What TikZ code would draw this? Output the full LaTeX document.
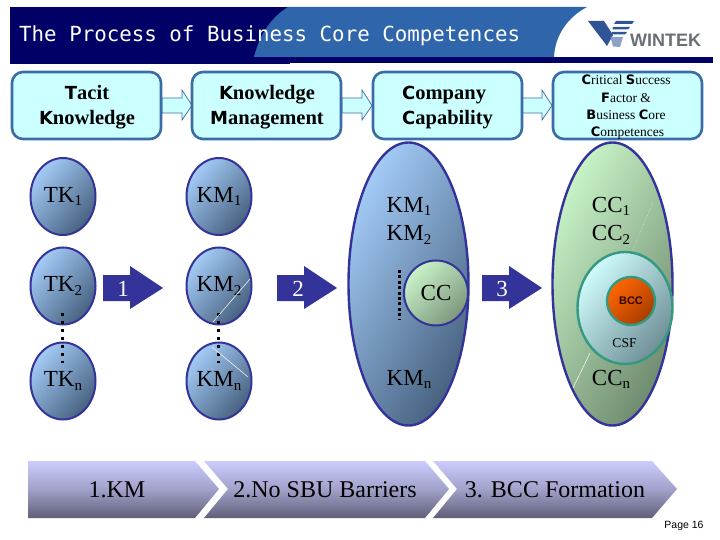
\documentclass[tikz,border=0pt]{standalone}
\usepackage{fontspec}
\setmainfont{Liberation Serif}
\setsansfont{Liberation Sans}
\newfontfamily\titlefont{DejaVu Sans Mono}
\newfontfamily\initfont{DejaVu Sans Bold}
\usetikzlibrary{shapes.geometric}
\definecolor{navy}{HTML}{000066}
\definecolor{banner}{HTML}{2F65AB}
\definecolor{boxline}{HTML}{3A6CA6}
\definecolor{boxfill}{HTML}{CCFFFF}
\definecolor{ringblue}{HTML}{333399}
\definecolor{blueA}{HTML}{A4CCF8}
\definecolor{blueB}{HTML}{47617F}
\definecolor{greenA}{HTML}{C8F4C8}
\definecolor{greenB}{HTML}{6F8A6F}
\definecolor{cyanA}{HTML}{D0FCFC}
\definecolor{cyanB}{HTML}{6E8F96}
\definecolor{tealring}{HTML}{339980}
\definecolor{orangeA}{HTML}{FF6600}
\definecolor{orangeB}{HTML}{A83C00}
\definecolor{chevA}{HTML}{CCCCFF}
\definecolor{chevB}{HTML}{5F5F78}
\definecolor{logoblue}{HTML}{2F5597}
\definecolor{logogray}{HTML}{6B6F75}
\newcommand{\sbs}[1]{\raisebox{-3.5pt}{\fontsize{15}{15}\selectfont #1}}
\newcommand{\blobtxt}[2]{\raisebox{-1.5pt}{#1\sbs{#2}}}
\newcommand{\headA}[1]{{\fontsize{18}{18}\initfont #1}}
\newcommand{\headB}[1]{{\fontsize{13}{13}\initfont #1}}
\tikzset{
  x=1pt,y=-1pt,
  headbox/.style={draw=boxline,line width=2.6pt,fill=boxfill,rounded corners=11pt,minimum width=149pt,minimum height=67pt,inner sep=0pt,align=center},
  headtext/.style={font=\fontsize{20.5}{25}\selectfont\bfseries,align=center,inner sep=0pt},
  smalltext/.style={font=\fontsize{13.5}{17.3}\selectfont,align=center,inner sep=0pt},
  flow/.style={draw=boxline,line width=.7pt,fill=boxfill},
  blob/.style={ellipse,draw=ringblue,line width=2pt,top color=blueA,bottom color=blueB,shading angle=50,minimum width=65pt,minimum height=77pt,inner sep=0pt,font=\fontsize{23}{23}\selectfont},
  bigring/.style={ellipse,draw=ringblue,line width=2.4pt,minimum width=120pt,minimum height=283pt,inner sep=0pt},
  biglabel/.style={font=\fontsize{23}{28}\selectfont,inner sep=0pt},
  blockarrow/.style={fill=ringblue,draw=none},
  numlabel/.style={font=\fontsize{23}{23}\selectfont,text=white,inner sep=0pt},
  chevshape/.style={top color=chevA,bottom color=chevB,middle color=chevA!60!chevB,draw=none},
  chevtext/.style={font=\fontsize{24}{24}\selectfont,inner sep=0pt},
  dotline/.style={line width=3pt,black,dash pattern=on 3pt off 5pt},
  glint/.style={white,line width=.5pt},
}
\begin{document}
\begin{tikzpicture}
\useasboundingbox (0,0) rectangle (720,540);
\fill[white] (0,0) rectangle (720,540);
% banner
\fill[navy] (10,7) rectangle (290,64);
\fill[navy] (250,57) rectangle (713,63.5);
\fill[banner] (254,57) .. controls (260,33) and (272,17) .. (288,7) -- (587,7)
   .. controls (568,17) and (555,35) .. (554,57) -- cycle;
\node[text=white,font=\titlefont\fontsize{20.8}{21}\selectfont,anchor=west,inner sep=0pt] (title) at (19,36) {The Process of Business Core Competences};
% logo
\fill[logoblue] (588,21) -- (604,21) -- (613,35) -- (607,46) -- cycle;
\fill[logoblue] (616,21) -- (634,21) -- (632,24) -- (614,24) -- cycle;
\fill[logoblue] (613,27) -- (630,27) -- (628,29.5) -- (612.5,29.5) -- cycle;
\fill[logoblue] (612,32) -- (627,32) -- (625,34.5) -- (611,34.5) -- cycle;
\fill[logoblue!55!white] (610.5,37) -- (623,37) -- (620,47) -- (613,46.5) -- cycle;
\node[font=\sffamily\bfseries\fontsize{18}{18}\selectfont,text=logogray,anchor=west,inner sep=0pt] (wintek) at (630,40.5) {WINTEK};
% flow arrows behind header boxes
\foreach \a in {162,342,522}{
  \draw[flow] (\a,98) -- (\a+20,98) -- (\a+20,90) -- (\a+30,105.5) -- (\a+20,120) -- (\a+20,113) -- (\a,113) -- cycle;
}
% header boxes
\node[headbox] (h1) at (86.5,105.5) {};
\node[headbox] (h2) at (266.5,105.5) {};
\node[headbox] (h3) at (447.5,105.5) {};
\node[headbox] (h4) at (627.5,105.5) {};
\node[headtext] (t1) at (87,107.5) {\headA{T}acit\\\headA{K}nowledge};
\node[headtext] (t2) at (267,107.5) {\headA{K}nowledge\\\headA{M}anagement};
\node[headtext,align=left] (t3) at (447.5,107.5) {\headA{C}ompany\\\headA{C}apability};
\node[smalltext] (t4) at (626,107.5) {\headB{C}ritical \headB{S}uccess\\\headB{F}actor \&\\\headB{B}usiness \headB{C}ore\\\hspace{3pt}\headB{C}ompetences};
% big ellipses
\node[bigring,top color=blueA,bottom color=blueB,shading angle=60] (bigb) at (408.5,284) {};
\node[bigring,top color=greenA,bottom color=greenB,shading angle=60] (bigg) at (612.5,284) {};
% small ellipses
\node[blob] (tk1) at (63,196.5) {\blobtxt{TK}{1}};
\node[blob] (tk2) at (63,286) {\blobtxt{TK}{2}};
\node[blob] (tkn) at (63,381) {\blobtxt{TK}{n}};
\node[blob] (km1) at (219,196.5) {\blobtxt{KM}{1}};
\node[blob] (km2) at (219,286) {\blobtxt{KM}{2}};
\node[blob] (kmn) at (219,381) {\blobtxt{KM}{n}};
% dotted continuation
\draw[dotline] (62,313) -- (62,363);
\draw[dotline] (218,313) -- (218,363);
\draw[dotline,dash pattern=on 3pt off 2.4pt] (399.5,270) -- (399.5,320);
% glints
\draw[glint] (213,322) -- (250,279);
\draw[glint] (212,347) -- (248,377);
\draw[glint,dotted] (633,250) -- (653,202);
\draw[glint] (590,353) -- (573,388);
% block arrows
\foreach \a in {103,277,482}{
  \fill[blockarrow] (\a,275) -- (\a+27,275) -- (\a+27,266) -- (\a+60,288) -- (\a+27,309) -- (\a+27,301) -- (\a,301) -- cycle;
}
\node[numlabel] (n1) at (123,289) {1};
\node[numlabel] (n2) at (298,289) {2};
\node[numlabel] (n3) at (502,289) {3};
% inner ellipses
\node[ellipse,draw=ringblue,line width=2pt,top color=greenA,bottom color=greenB!90!white,shading angle=45,minimum width=64pt,minimum height=65pt,inner sep=0pt,font=\fontsize{23}{23}\selectfont] (cc) at (436,293) {CC};
\node[ellipse,draw=tealring,line width=2.4pt,top color=cyanA,bottom color=cyanB,shading angle=50,minimum width=95pt,minimum height=112pt,inner sep=0pt] (csf) at (625,308) {};
\node[ellipse,draw=tealring,line width=2.4pt,top color=orangeA,bottom color=orangeB,shading angle=45,minimum width=48pt,minimum height=48pt,inner sep=0pt,font=\sffamily\bfseries\fontsize{11}{11}\selectfont,text=black!80!red] (bcc) at (631,301) {BCC};
\node[font=\fontsize{13.5}{14}\selectfont,inner sep=0pt] (csft) at (624.5,343) {CSF};
% texts in big ellipses
\node[biglabel] (kma) at (409,206.5) {KM\sbs{1}};
\node[biglabel] (kmb) at (409,235) {KM\sbs{2}};
\node[biglabel] (kmc) at (409,379.5) {KM\sbs{n}};
\node[biglabel] (cca) at (611,206.5) {CC\sbs{1}};
\node[biglabel] (ccb) at (611,235) {CC\sbs{2}};
\node[biglabel] (ccc) at (611,379.5) {CC\sbs{n}};
% chevrons
\shade[chevshape] (28,461) -- (195,461) -- (219,489) -- (195,518) -- (28,518) -- cycle;
\shade[chevshape] (204,461) -- (425,461) -- (449,489) -- (425,518) -- (204,518) -- (228,489) -- cycle;
\shade[chevshape] (433,461) -- (652,461) -- (677,489) -- (652,518) -- (433,518) -- (457,489) -- cycle;
\node[chevtext] (c1) at (117,490) {1.KM};
\node[chevtext] (c2) at (325,490) {2.No SBU Barriers};
\node[chevtext] (c3) at (555,490) {3. BCC Formation};
\node[font=\sffamily\fontsize{10.5}{11}\selectfont,inner sep=0pt] (page) at (684,526) {Page 16};
\end{tikzpicture}
\end{document}
